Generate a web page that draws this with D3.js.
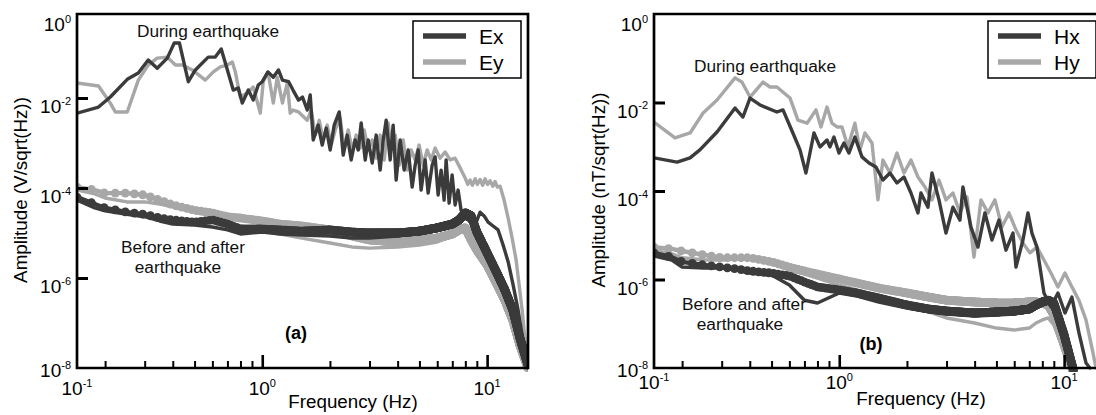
<!DOCTYPE html>
<html>
<head>
<meta charset="utf-8">
<script src="https://cdn.jsdelivr.net/npm/d3@7"></script>
<style>
  body { margin: 0; background: #fff; }
  svg { display: block; font-family: "Liberation Sans", Arial, sans-serif; }
</style>
</head>
<body>
<svg id="chart" width="1096" height="415"></svg>
<script>
// ---- data (frequency in Hz, amplitude per sqrt(Hz)) ----

// panel (a): electric field, during the earthquake
const exDuringFreq = [0.15, 0.187, 0.211, 0.251, 0.281, 0.311, 0.341, 0.378, 0.406, 0.428, 0.469, 0.504, 0.575, 0.618, 0.657, 0.743, 0.782, 0.815, 0.867, 0.912, 0.96, 1.0, 1.06, 1.12, 1.18, 1.23, 1.31, 1.37, 1.45, 1.51, 1.585,
  1.634, 1.685, 1.774, 1.848, 1.925, 2.005, 2.089, 2.199, 2.291, 2.387, 2.486, 2.59, 2.672, 2.754, 2.87, 2.959, 3.083, 3.212, 3.345, 3.45, 3.557, 3.707, 3.821, 3.94, 4.105, 4.277, 4.456, 4.642, 4.786, 4.935, 5.088, 5.301, 5.466, 5.695, 5.872, 6.055, 6.244, 6.438, 6.572, 6.777, 6.988, 7.206, 7.43, 7.661,
  7.985, 8.404, 8.845, 9.309, 9.698, 10.1, 10.63, 11.19, 11.78, 12.4, 13.05, 13.73, 14.31, 14.91];
const exDuringAmp = [4.6e-3, 6.3e-3, 1.05e-2, 2.6e-2, 3.6e-2, 7.0e-2, 4.6e-2, 7.7e-2, 0.167, 0.167, 2.3e-2, 4.2e-2, 8.1e-2, 8.1e-2, 0.123, 1.5e-2, 1.67e-2, 7.7e-3, 1.5e-2, 9.0e-3, 1.95e-2, 2.3e-2, 3.8e-2, 2.9e-2, 4.2e-2, 2.5e-2, 2.3e-2, 1.5e-2, 9.0e-3, 1.05e-2, 5.4e-3,
  1.17e-2, 1.17e-3, 2.5e-3, 9.0e-4, 2.15e-3, 7.0e-4, 2.5e-3, 4.9e-3, 5.4e-4, 1.5e-3, 4.2e-4, 1.17e-3, 7.0e-4, 2.8e-3, 4.2e-4, 1.17e-3, 3.6e-4, 1.5e-3, 2.5e-4, 1.17e-3, 3.2e-3, 4.2e-4, 2.5e-3, 1.5e-4, 1.17e-3, 2.5e-4, 7.0e-4, 1.05e-4, 3.2e-4, 7.0e-4, 9.0e-5, 4.2e-4, 7.7e-5, 3.2e-4, 4.9e-4, 7.0e-5, 2.5e-4, 5.4e-5, 4.2e-4, 4.6e-5, 1.95e-4, 4.2e-5, 9.0e-5, 3.2e-5,
  2.8e-5, 1.75e-5, 1.5e-5, 2.9e-5, 2.4e-5, 1.75e-5, 1.43e-5, 1.17e-5, 5.4e-6, 2.3e-6, 7.0e-7, 1.95e-7, 5.4e-8, 1.67e-8];

const eyDuringFreq = [0.15, 0.187, 0.211, 0.222, 0.251, 0.281, 0.311, 0.341, 0.378, 0.411, 0.441, 0.489, 0.558, 0.606, 0.651, 0.699, 0.736, 0.759, 0.798, 0.858, 0.912, 0.98, 1.01, 1.06, 1.12, 1.166, 1.23, 1.292, 1.331, 1.37, 1.45, 1.585,
  1.651, 1.72, 1.792, 1.867, 1.945, 2.026, 2.111, 2.222, 2.314, 2.411, 2.512, 2.617, 2.726, 2.84, 2.959, 3.083, 3.212, 3.345, 3.485, 3.631, 3.744, 3.901, 4.064, 4.234, 4.411, 4.595, 4.786, 4.986, 5.195, 5.412, 5.638, 5.872, 6.18, 6.505, 6.847, 7.206, 7.586,
  7.985, 8.2, 8.404, 8.6, 8.845, 9.05, 9.309, 9.55, 9.797, 10.05, 10.31, 10.6, 10.85, 11.1, 11.42, 11.9, 12.4, 12.92, 13.46, 13.88, 14.31, 14.75, 15.2];
const eyDuringAmp = [2.15e-2, 1.85e-2, 7.7e-3, 4.9e-3, 4.9e-3, 2.5e-2, 5.4e-2, 7.7e-2, 8.1e-2, 5.4e-2, 5.4e-2, 4.2e-2, 2.5e-2, 3.8e-2, 4.9e-2, 5.4e-2, 6.3e-2, 3.8e-2, 1.05e-2, 1.3e-2, 1.75e-2, 4.6e-3, 2.3e-2, 3.8e-2, 7.7e-3, 2.9e-2, 7.7e-3, 2.15e-2, 4.6e-3, 5.4e-3, 4.9e-3, 3.2e-3,
  5.4e-3, 1.5e-3, 3.2e-3, 1.17e-3, 2.5e-3, 9.0e-4, 1.95e-3, 3.6e-3, 7.0e-4, 1.95e-3, 7.0e-4, 1.5e-3, 7.7e-4, 1.95e-3, 7.0e-4, 1.17e-3, 4.6e-4, 1.5e-3, 4.2e-4, 2.8e-3, 7.0e-4, 1.5e-3, 3.2e-4, 1.17e-3, 2.5e-4, 7.0e-4, 4.2e-4, 9.0e-4, 3.2e-4, 7.0e-4, 4.2e-4, 7.7e-4, 4.6e-4, 6.3e-4, 4.2e-4, 4.6e-4, 2.8e-4,
  1.67e-4, 1.2e-4, 1.5e-4, 1.15e-4, 1.6e-4, 1.2e-4, 1.55e-4, 1.15e-4, 1.6e-4, 1.2e-4, 1.45e-4, 1.1e-4, 1.4e-4, 1.05e-4, 1.1e-4, 5.4e-5, 2.15e-5, 7.7e-6, 2.5e-6, 7.0e-7, 1.95e-7, 4.2e-8, 1.0e-8];

// panel (a): before and after the earthquake
const quietFreqA = [0.15, 0.18, 0.2, 0.25, 0.3, 0.35, 0.4, 0.5, 0.6, 0.7, 0.8, 1.0, 1.2, 1.5, 2, 2.5, 3, 4, 5, 6, 7, 7.5, 8, 8.5, 9, 10, 11, 12, 13, 14, 15.2];
const exBeforeAmp = [6.3e-5, 4.4e-5, 3.6e-5, 2.9e-5, 2.6e-5, 2.15e-5, 1.95e-5, 1.75e-5, 1.95e-5, 1.58e-5, 1.23e-5, 1.23e-5, 1.17e-5, 1.1e-5, 1.17e-5, 1.05e-5, 1.0e-5, 1.0e-5, 1.1e-5, 1.3e-5, 1.58e-5, 1.95e-5, 2.8e-5, 2.4e-5, 1.05e-5, 3.6e-6, 1.36e-6, 5.4e-7, 1.95e-7, 4.6e-8, 1.17e-8];
const exAfterAmp = [5.4e-5, 3.6e-5, 3.1e-5, 2.6e-5, 2.3e-5, 1.85e-5, 1.58e-5, 1.5e-5, 1.36e-5, 1.17e-5, 9.5e-6, 1.05e-5, 9.5e-6, 9.0e-6, 8.6e-6, 7.7e-6, 7.7e-6, 8.6e-6, 1.0e-5, 1.17e-5, 1.43e-5, 1.75e-5, 2.15e-5, 1.75e-5, 9.0e-6, 3.2e-6, 1.17e-6, 4.9e-7, 1.75e-7, 4.2e-8, 1.0e-8];
const eyBeforeAmp = [1.05e-4, 9.0e-5, 7.7e-5, 7.7e-5, 7.0e-5, 5.4e-5, 4.2e-5, 3.2e-5, 2.8e-5, 2.3e-5, 2.15e-5, 1.85e-5, 1.58e-5, 1.43e-5, 1.17e-5, 8.6e-6, 7.0e-6, 6.3e-6, 7.0e-6, 7.7e-6, 9.5e-6, 1.17e-5, 1.3e-5, 7.0e-6, 4.2e-6, 1.95e-6, 7.7e-7, 3.2e-7, 1.17e-7, 3.2e-8, 1.0e-8];
const eyAfterAmp = [9.0e-5, 7.4e-5, 6.0e-5, 4.9e-5, 4.9e-5, 4.4e-5, 3.8e-5, 2.9e-5, 2.4e-5, 1.75e-5, 1.43e-5, 1.17e-5, 9.5e-6, 7.7e-6, 6.0e-6, 4.9e-6, 4.6e-6, 4.9e-6, 5.4e-6, 6.3e-6, 8.6e-6, 1.05e-5, 1.23e-5, 8.6e-6, 4.6e-6, 1.67e-6, 6.0e-7, 2.5e-7, 9.0e-8, 2.8e-8, 1.0e-8];

// panel (b): magnetic field, during the earthquake
const hxDuringFreq = [0.15, 0.19, 0.217, 0.24, 0.286, 0.344, 0.373, 0.401, 0.444, 0.528, 0.562, 0.622, 0.669, 0.711, 0.772, 0.821, 0.882, 0.909, 0.947, 0.997, 1.049, 1.104, 1.174, 1.262, 1.356, 1.456, 1.564, 1.681, 1.806, 1.94, 2.084, 2.239, 2.308, 2.48, 2.584, 2.776, 2.983, 3.204, 3.442, 3.549, 3.852, 4.139, 4.445, 4.776, 5.131, 5.512, 5.924, 6.108, 6.561, 6.907, 7.194, 7.571, 8.134, 8.739, 9.389, 10.09, 10.83, 11.64, 12.51, 13.03];
const hxDuringAmp = [5.6e-4, 4.5e-4, 5.6e-4, 8.5e-4, 2.15e-3, 7.5e-3, 4.7e-3, 1.26e-2, 8.8e-3, 6.1e-3, 6.8e-3, 2.05e-3, 8.5e-4, 2.55e-4, 2.05e-3, 9.9e-4, 1.42e-3, 9.9e-4, 1.66e-3, 7.2e-4, 1.22e-3, 7.2e-4, 1.66e-3, 5.9e-4, 4.3e-4, 3.5e-4, 1.77e-4, 2.55e-4, 1.52e-4, 2.07e-4, 9.0e-5, 3.2e-5, 9.0e-5, 4.3e-5, 2.55e-4, 6.3e-5, 1.12e-5, 4.3e-5, 2.2e-5, 1.23e-4, 1.53e-5, 5.4e-6, 3.2e-5, 7.8e-6, 2.2e-5, 4.6e-6, 1.12e-5, 1.91e-6, 7.8e-6, 3.2e-5, 1.12e-5, 5.4e-6, 4.95e-7, 2.4e-7, 4.95e-7, 1.75e-7, 4.0e-7, 6.2e-8, 1.3e-8, 1.0e-8];

const hyDuringFreq = [0.15, 0.186, 0.217, 0.248, 0.286, 0.344, 0.369, 0.401, 0.458, 0.492, 0.528, 0.604, 0.655, 0.719, 0.788, 0.829, 0.882, 0.928, 0.977, 1.028, 1.093, 1.174, 1.236, 1.301, 1.398, 1.486, 1.564, 1.681, 1.806, 1.94, 2.084, 2.239, 2.405, 2.584, 2.776, 2.983, 3.204, 3.442, 3.698, 3.972, 4.267, 4.584, 4.925, 5.29, 5.683, 6.108, 6.561, 7.047, 7.571, 8.134, 8.739, 9.389, 10.09, 10.83, 11.64, 12.51, 13.44, 13.86];
const hyDuringAmp = [3.6e-3, 1.58e-3, 2.05e-3, 5.8e-3, 1.14e-2, 3.6e-2, 2.9e-2, 1.33e-2, 2.9e-2, 2.24e-2, 2.24e-2, 1.26e-2, 4.0e-3, 3.4e-3, 6.8e-3, 2.8e-3, 7.9e-3, 3.4e-3, 2.8e-3, 2.8e-3, 9.9e-4, 3.4e-3, 8.5e-4, 2.05e-3, 1.22e-3, 6.3e-5, 5.0e-4, 2.55e-4, 7.2e-4, 2.55e-4, 5.0e-4, 2.07e-4, 1.23e-4, 6.3e-5, 1.77e-4, 6.3e-5, 9.0e-5, 3.2e-5, 7.3e-5, 3.2e-6, 6.3e-5, 3.2e-5, 6.3e-5, 1.53e-5, 3.2e-5, 1.32e-5, 6.7e-6, 4.0e-6, 5.4e-6, 2.76e-6, 1.4e-6, 6.8e-7, 1.4e-6, 6.8e-7, 3.4e-7, 1.22e-7, 2.2e-8, 1.0e-8];

// panel (b): before and after the earthquake
const quietFreqB = [0.15, 0.18, 0.2, 0.25, 0.3, 0.35, 0.4, 0.5, 0.6, 0.7, 0.8, 1.0, 1.2, 1.5, 2, 2.5, 3, 4, 5, 6, 7, 7.5, 8, 8.5, 9, 10, 11];
const hxBeforeAmp = [4.0e-6, 3.2e-6, 2.5e-6, 2.13e-6, 1.91e-6, 1.73e-6, 1.56e-6, 1.4e-6, 1.2e-6, 8.8e-7, 6.8e-7, 5.8e-7, 4.95e-7, 3.8e-7, 2.65e-7, 2.15e-7, 1.94e-7, 1.75e-7, 1.85e-7, 1.94e-7, 2.15e-7, 2.65e-7, 3.1e-7, 3.4e-7, 2.94e-7, 5.6e-8, 9e-9];
const hxAfterAmp = [3.4e-6, 2.76e-6, 1.91e-6, 1.82e-6, 1.82e-6, 1.64e-6, 1.4e-6, 1.26e-6, 7.5e-7, 3.4e-7, 2.94e-7, 4.95e-7, 4.2e-7, 3.1e-7, 2.27e-7, 1.85e-7, 1.66e-7, 1.5e-7, 1.58e-7, 1.66e-7, 1.94e-7, 2.4e-7, 2.8e-7, 3.1e-7, 2.5e-7, 4.3e-8, 8.1e-9];
const hyBeforeAmp = [5.4e-6, 4.9e-6, 4.4e-6, 3.6e-6, 3.1e-6, 3.1e-6, 3.1e-6, 2.5e-6, 1.91e-6, 1.56e-6, 1.33e-6, 1.03e-6, 8.3e-7, 6.4e-7, 4.95e-7, 4.0e-7, 3.4e-7, 3.1e-7, 2.94e-7, 2.94e-7, 3.1e-7, 3.1e-7, 2.94e-7, 2.65e-7, 1.58e-7, 3.3e-8, 8.1e-9];
const hyAfterAmp = [4.6e-6, 3.8e-6, 3.1e-6, 2.76e-6, 2.76e-6, 2.9e-6, 3.1e-6, 2.24e-6, 1.64e-6, 1.33e-6, 1.08e-6, 7.5e-7, 5.8e-7, 3.8e-7, 2.65e-7, 1.85e-7, 1.35e-7, 1.04e-7, 8.0e-8, 7.2e-8, 8.0e-8, 1.04e-7, 1.22e-7, 1.35e-7, 9.4e-8, 2.55e-8, 8.1e-9];

// axes
const freqDomain = [0.15, 15.2];
const xMinorTicks = [0.2, 0.3, 0.4, 0.5, 0.6, 0.7, 0.8, 0.9, 2, 3, 4, 5, 6, 7, 8, 9];
const xMajorTicks = [1, 10];
const xLabelValues = [0.15, 1, 10];
const xLabelExps = ["-1", "0", "1"];
const yTicks = [1e-2, 1e-4, 1e-6];
const yLabelValues = [1, 1e-2, 1e-4, 1e-6, 1e-8];
const yLabelExps = ["0", "-2", "-4", "-6", "-8"];

const DARK = "#3b3b3b";
const LIGHT = "#a7a7a7";
const BEAD_STEP_HZ = 0.024;   // marker spacing of the quiet-time spectra (linear in Hz)

const svg = d3.select("#chart");

// position on the drawn log-log polyline at frequency f
function onLine(freq, amp, f) {
  const i = Math.min(Math.max(d3.bisectRight(freq, f), 1), freq.length - 1);
  const t = (Math.log(f) - Math.log(freq[i - 1])) / (Math.log(freq[i]) - Math.log(freq[i - 1]));
  return Math.exp(Math.log(amp[i - 1]) + t * (Math.log(amp[i]) - Math.log(amp[i - 1])));
}

function drawPanel(p) {
  const top = 14, bottom = 368;
  const x = d3.scaleLog().domain(freqDomain).range([p.left, p.right]);
  const y = d3.scaleLog().domain([1e-8, 1]).range([bottom, p.yTop]);

  const g = svg.append("g");
  const clipId = "clip-" + p.id;
  g.append("clipPath").attr("id", clipId)
    .append("rect")
    .attr("x", p.left).attr("y", top)
    .attr("width", p.right - p.left).attr("height", bottom - top + 4);

  const plot = g.append("g").attr("clip-path", `url(#${clipId})`);
  const line = d3.line().x(d => x(d[0])).y(d => y(d[1]));

  // quiet-time curves: "before" carries round markers, "after" is a plain line
  function quiet(freq, amp, color, beads) {
    plot.append("path").datum(d3.zip(freq, amp))
      .attr("d", line).attr("fill", "none")
      .attr("stroke", color).attr("stroke-width", beads ? 4.4 : 3.4)
      .attr("stroke-linejoin", "round").attr("stroke-linecap", "round");
    if (beads) {
      const fs = d3.range(freq[0], freq[freq.length - 1], BEAD_STEP_HZ);
      plot.append("g").selectAll("circle").data(fs).join("circle")
        .attr("cx", f => x(f)).attr("cy", f => y(onLine(freq, amp, f)))
        .attr("r", 4.4).attr("fill", color);
    }
  }
  function during(freq, amp, color) {
    plot.append("path").datum(d3.zip(freq, amp))
      .attr("d", line).attr("fill", "none")
      .attr("stroke", color).attr("stroke-width", 3.4)
      .attr("stroke-linejoin", "round").attr("stroke-linecap", "round");
  }

  during(p.dyFreq, p.dyAmp, LIGHT);
  quiet(p.qFreq, p.yAfter, LIGHT, false);
  quiet(p.qFreq, p.yBefore, LIGHT, true);
  during(p.dxFreq, p.dxAmp, DARK);
  quiet(p.qFreq, p.xAfter, DARK, false);
  quiet(p.qFreq, p.xBefore, DARK, true);

  // frame
  g.append("path")
    .attr("d", `M${p.left},${top}H${p.right}V${bottom}H${p.left}Z`)
    .attr("stroke", "#000").attr("stroke-width", 2.7).attr("fill", "none");

  // ticks pointing inward
  const xMinor = g.append("g").attr("transform", `translate(0,${bottom})`)
    .call(d3.axisBottom(x).tickValues(xMinorTicks).tickSize(-7).tickFormat(""));
  const xMajor = g.append("g").attr("transform", `translate(0,${bottom})`)
    .call(d3.axisBottom(x).tickValues(xMajorTicks).tickSize(-13).tickFormat(""));
  const yAx = g.append("g").attr("transform", `translate(${p.left},0)`)
    .call(d3.axisLeft(y).tickValues(yTicks).tickSize(-11).tickFormat(""));
  [xMinor, xMajor, yAx].forEach(a => {
    a.select(".domain").remove();
    a.selectAll("line").attr("stroke", "#000");
  });
  xMinor.selectAll("line").attr("stroke-width", 2);
  xMajor.selectAll("line").attr("stroke-width", 2.6);
  yAx.selectAll("line").attr("stroke-width", 3);

  // tick labels: 10 with a superscript exponent
  function powerLabel(sel) {
    sel.attr("font-size", 19).attr("fill", "#000");
    sel.append("tspan").text("10");
    sel.append("tspan").attr("font-size", 11).attr("dy", -8.5).text(d => d.exp);
  }
  g.append("g").selectAll("text")
    .data(d3.zip(xLabelValues, xLabelExps).map(([v, exp]) => ({ v, exp })))
    .join("text")
    .attr("x", d => x(d.v)).attr("y", p.xLabelBase)
    .attr("text-anchor", "middle")
    .call(powerLabel);
  g.append("g").selectAll("text")
    .data(d3.zip(yLabelValues, yLabelExps).map(([v, exp]) => ({ v, exp })))
    .join("text")
    .attr("x", p.left - 6)
    .attr("y", d => Math.min(Math.max(y(d.v) + 15, 31), 377))
    .attr("text-anchor", "end")
    .call(powerLabel);

  // axis titles
  g.append("text").attr("x", p.xTitle[0]).attr("y", p.xTitle[1])
    .attr("text-anchor", "middle").attr("font-size", 18.8).text("Frequency (Hz)");
  g.append("text")
    .attr("transform", `translate(${p.yTitle[0]},${p.yTitle[1]}) rotate(-90)`)
    .attr("text-anchor", "middle").attr("font-size", 18.8).text(p.yLabel);

  // annotations
  const ann = g.append("g").attr("font-size", 17.3).attr("text-anchor", "middle").attr("fill", "#111");
  ann.append("text").attr("x", p.during[0]).attr("y", p.during[1]).text("During earthquake");
  ann.append("text").attr("x", p.before[0]).attr("y", p.before[1]).text("Before and after");
  ann.append("text").attr("x", p.before2[0]).attr("y", p.before2[1]).text("earthquake");
  g.append("text").attr("x", p.tag[0]).attr("y", p.tag[1])
    .attr("text-anchor", "middle").attr("font-size", 18).attr("font-weight", "bold").text(p.tagText);

  // legend
  const lg = g.append("g");
  lg.append("rect").attr("x", p.legend).attr("y", 21).attr("width", 108).attr("height", 57)
    .attr("fill", "#fff").attr("stroke", "#000").attr("stroke-width", 1.5);
  [[p.names[0], DARK, 36], [p.names[1], LIGHT, 62]].forEach(([name, color, ly]) => {
    lg.append("line").attr("x1", p.legend + 10).attr("x2", p.legend + 53)
      .attr("y1", ly).attr("y2", ly).attr("stroke", color).attr("stroke-width", 5.5);
    lg.append("text").attr("x", p.legend + 66).attr("y", ly + 8)
      .attr("font-size", 21).text(name);
  });
}

drawPanel({
  id: "a", left: 77, right: 528, yTop: 8, xLabelBase: 395,
  dxFreq: exDuringFreq, dxAmp: exDuringAmp, dyFreq: eyDuringFreq, dyAmp: eyDuringAmp,
  qFreq: quietFreqA, xBefore: exBeforeAmp, xAfter: exAfterAmp, yBefore: eyBeforeAmp, yAfter: eyAfterAmp,
  xTitle: [353, 408], yTitle: [27, 190], yLabel: "Amplitude (V/sqrt(Hz))",
  during: [208, 37], before: [183, 253], before2: [178, 273], tag: [296, 339], tagText: "(a)",
  legend: 413, names: ["Ex", "Ey"]
});

drawPanel({
  id: "b", left: 654, right: 1105, yTop: 14, xLabelBase: 389,
  dxFreq: hxDuringFreq, dxAmp: hxDuringAmp, dyFreq: hyDuringFreq, dyAmp: hyDuringAmp,
  qFreq: quietFreqB, xBefore: hxBeforeAmp, xAfter: hxAfterAmp, yBefore: hyBeforeAmp, yAfter: hyAfterAmp,
  xTitle: [921, 405], yTitle: [605, 190], yLabel: "Amplitude (nT/sqrt(Hz))",
  during: [765, 72], before: [744, 310], before2: [740, 330], tag: [871, 350], tagText: "(b)",
  legend: 988, names: ["Hx", "Hy"]
});
</script>
</body>
</html>
